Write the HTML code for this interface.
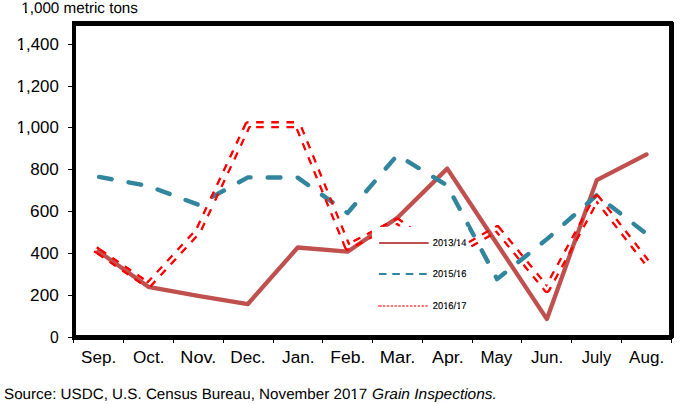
<!DOCTYPE html>
<html><head><meta charset="utf-8"><style>
html,body{margin:0;padding:0;background:#fff;width:680px;height:404px;overflow:hidden}
svg{display:block;font-family:"Liberation Sans",sans-serif;fill:#000}
.gp{text-rendering:geometricPrecision}
</style></head><body>
<svg width="680" height="404" viewBox="0 0 680 404">
<defs><mask id="rm" maskUnits="userSpaceOnUse" x="0" y="0" width="680" height="404"><polyline points="95.32,249.16 98.42,251.27 148.25,285.18 198.08,231.18 247.92,124.66 297.75,124.66 347.58,247.09 397.41,221.14 447.25,257.55 497.08,228.67 546.91,289.36 596.75,197.91 646.58,261.95" fill="none" stroke="#fff" stroke-width="7.5" stroke-linejoin="round"/><polyline points="95.32,249.16 98.42,251.27 148.25,285.18 198.08,231.18 247.92,124.66 297.75,124.66 347.58,247.09 397.41,221.14 447.25,257.55 497.08,228.67 546.91,289.36 596.75,197.91 646.58,261.95" fill="none" stroke="#000" stroke-width="2.5" stroke-linejoin="round"/></mask></defs>
<polyline points="98.42,251.27 148.25,286.85 198.08,295.85 247.92,304.01 297.75,247.51 347.58,251.69 397.41,217.79 447.25,168.61 497.08,243.95 546.91,319.08 596.75,180.12 646.58,154.38" fill="none" stroke="#C0504D" stroke-width="4.3" stroke-linejoin="round" stroke-linecap="round"/>
<polyline points="98.42,176.77 148.25,185.98 198.08,204.60 247.92,177.40 297.75,177.61 347.58,212.97 397.41,155.00 447.25,185.56 497.08,279.11 546.91,239.14 596.75,195.19 646.58,233.90" fill="none" stroke="#31859C" stroke-width="4.4" stroke-linejoin="round" stroke-linecap="round" stroke-dasharray="12.8 17.15" stroke-dashoffset="-0.7"/>
<g mask="url(#rm)"><polyline points="98.42,251.27 148.25,285.18 198.08,231.18 210.86,203.87" fill="none" stroke="#FF0000" stroke-width="7.5" stroke-linejoin="round" stroke-dasharray="7.6 7.55" stroke-dashoffset="0"/><polyline points="210.86,203.87 247.92,124.66 297.75,124.66 347.58,247.09 397.41,221.14 447.25,257.55 497.08,228.67 546.91,289.36 596.75,197.91 646.58,261.95" fill="none" stroke="#FF0000" stroke-width="7.5" stroke-linejoin="round" stroke-dasharray="7.6 7.55" stroke-dashoffset="161.90"/><line x1="95.32" y1="249.16" x2="98.42" y2="251.27" stroke="#FF0000" stroke-width="7.5"/></g>
<rect x="371.9" y="226.9" width="96" height="88" fill="#fff"/>
<line x1="379.1" y1="243" x2="428.7" y2="243" stroke="#C0504D" stroke-width="2"/>
<line x1="378.9" y1="274" x2="428.7" y2="274" stroke="#31859C" stroke-width="1.8" stroke-dasharray="7.6 5.8"/>
<line x1="378.2" y1="306" x2="381.9" y2="306" stroke="#FF4040" stroke-width="1.4"/>
<line x1="383.0" y1="306" x2="428.0" y2="306" stroke="#FF4040" stroke-width="1.4" stroke-dasharray="2.3 1.56"/>
<rect x="72" y="21" width="601" height="5" fill="#000"/>
<rect x="72" y="335" width="600" height="5" fill="#000"/>
<rect x="72" y="21" width="4" height="319" fill="#000"/>
<rect x="669" y="22" width="5" height="316" fill="#000"/>
<rect x="672" y="338" width="1" height="1" fill="#000"/>
<rect x="68" y="337" width="4" height="1" fill="#000"/>
<rect x="68" y="295" width="4" height="1" fill="#000"/>
<rect x="68" y="253" width="4" height="1" fill="#000"/>
<rect x="68" y="211" width="4" height="1" fill="#000"/>
<rect x="68" y="169" width="4" height="1" fill="#000"/>
<rect x="68" y="127" width="4" height="1" fill="#000"/>
<rect x="68" y="86" width="4" height="1" fill="#000"/>
<rect x="68" y="44" width="4" height="1" fill="#000"/>
<rect x="73" y="340" width="1" height="3" fill="#000"/>
<rect x="123" y="340" width="1" height="3" fill="#000"/>
<rect x="173" y="340" width="1" height="3" fill="#000"/>
<rect x="223" y="340" width="1" height="3" fill="#000"/>
<rect x="273" y="340" width="1" height="3" fill="#000"/>
<rect x="322" y="340" width="1" height="3" fill="#000"/>
<rect x="372" y="340" width="1" height="3" fill="#000"/>
<rect x="422" y="340" width="1" height="3" fill="#000"/>
<rect x="472" y="340" width="1" height="3" fill="#000"/>
<rect x="521" y="340" width="1" height="3" fill="#000"/>
<rect x="571" y="340" width="1" height="3" fill="#000"/>
<rect x="621" y="340" width="1" height="3" fill="#000"/>
<rect x="671" y="340" width="1" height="3" fill="#000"/>
<text class="gp" x="432.73" y="246.00" font-size="9.9" textLength="33.63" lengthAdjust="spacingAndGlyphs" stroke="#000" stroke-width="0.15">2013/14</text>
<text class="gp" x="432.73" y="277.00" font-size="9.9" textLength="33.78" lengthAdjust="spacingAndGlyphs" stroke="#000" stroke-width="0.15">2015/16</text>
<text class="gp" x="432.73" y="309.00" font-size="9.9" textLength="33.83" lengthAdjust="spacingAndGlyphs" stroke="#000" stroke-width="0.15">2016/17</text>
<text x="49.99" y="343.00" font-size="16" textLength="8.73" lengthAdjust="spacingAndGlyphs">0</text>
<text x="30.14" y="301.00" font-size="16" textLength="28.64" lengthAdjust="spacingAndGlyphs">200</text>
<text x="30.61" y="259.00" font-size="16" textLength="28.15" lengthAdjust="spacingAndGlyphs">400</text>
<text x="30.12" y="217.00" font-size="16" textLength="28.65" lengthAdjust="spacingAndGlyphs">600</text>
<text x="30.27" y="175.00" font-size="16" textLength="28.51" lengthAdjust="spacingAndGlyphs">800</text>
<text x="16.62" y="133.00" font-size="16" textLength="42.14" lengthAdjust="spacingAndGlyphs">1,000</text>
<text x="16.62" y="92.00" font-size="16" textLength="42.14" lengthAdjust="spacingAndGlyphs">1,200</text>
<text x="16.62" y="50.00" font-size="16" textLength="42.14" lengthAdjust="spacingAndGlyphs">1,400</text>
<text x="81.11" y="362.60" font-size="16" textLength="35.14" lengthAdjust="spacingAndGlyphs">Sep.</text>
<text x="132.99" y="362.60" font-size="16" textLength="31.46" lengthAdjust="spacingAndGlyphs">Oct.</text>
<text x="180.31" y="362.60" font-size="16" textLength="35.94" lengthAdjust="spacingAndGlyphs">Nov.</text>
<text x="230.39" y="362.60" font-size="16" textLength="35.27" lengthAdjust="spacingAndGlyphs">Dec.</text>
<text x="282.12" y="362.60" font-size="16" textLength="32.54" lengthAdjust="spacingAndGlyphs">Jan.</text>
<text x="330.36" y="362.60" font-size="16" textLength="35.03" lengthAdjust="spacingAndGlyphs">Feb.</text>
<text x="379.80" y="362.60" font-size="16" textLength="35.67" lengthAdjust="spacingAndGlyphs">Mar.</text>
<text x="432.06" y="362.60" font-size="16" textLength="31.65" lengthAdjust="spacingAndGlyphs">Apr.</text>
<text x="480.41" y="362.60" font-size="16" textLength="31.92" lengthAdjust="spacingAndGlyphs">May</text>
<text x="531.03" y="362.60" font-size="16" textLength="32.12" lengthAdjust="spacingAndGlyphs">Jun.</text>
<text x="581.84" y="362.60" font-size="16" textLength="29.40" lengthAdjust="spacingAndGlyphs">July</text>
<text x="629.07" y="362.60" font-size="16" textLength="35.09" lengthAdjust="spacingAndGlyphs">Aug.</text>
<text class="gp" x="21.24" y="13.00" font-size="15.3" textLength="116.71" lengthAdjust="spacingAndGlyphs">1,000 metric tons</text>
<text class="gp" x="4.00" y="398.80" font-size="15" textLength="363.26" lengthAdjust="spacingAndGlyphs">Source: USDC, U.S. Census Bureau, November 2017</text>
<text class="gp" x="372.14" y="398.80" font-size="15" textLength="124.76" lengthAdjust="spacingAndGlyphs" font-style="italic">Grain Inspections.</text>
<rect x="443" y="245" width="2" height="2" fill="#fff"/>
<rect x="447" y="245" width="2" height="2" fill="#fff"/>
<rect x="456" y="245" width="2" height="2" fill="#fff"/>
<rect x="460" y="245" width="2" height="2" fill="#fff"/>
<rect x="443" y="276" width="2" height="2" fill="#fff"/>
<rect x="447" y="276" width="2" height="2" fill="#fff"/>
<rect x="456" y="276" width="2" height="2" fill="#fff"/>
<rect x="460" y="276" width="2" height="2" fill="#fff"/>
<rect x="443" y="308" width="2" height="2" fill="#fff"/>
<rect x="447" y="308" width="2" height="2" fill="#fff"/>
<rect x="456" y="308" width="2" height="2" fill="#fff"/>
<rect x="460" y="308" width="2" height="2" fill="#fff"/>
<rect x="17" y="131" width="3" height="3" fill="#fff"/>
<rect x="23" y="131" width="3" height="3" fill="#fff"/>
<rect x="17" y="90" width="3" height="3" fill="#fff"/>
<rect x="23" y="90" width="3" height="3" fill="#fff"/>
<rect x="17" y="48" width="3" height="3" fill="#fff"/>
<rect x="23" y="48" width="3" height="3" fill="#fff"/>
<rect x="22" y="11" width="3" height="3" fill="#fff"/>
<rect x="27" y="11" width="3" height="3" fill="#fff"/>
<rect x="351" y="397" width="3" height="2" fill="#fff"/>
<rect x="356" y="397" width="3" height="2" fill="#fff"/>
</svg>
</body></html>
